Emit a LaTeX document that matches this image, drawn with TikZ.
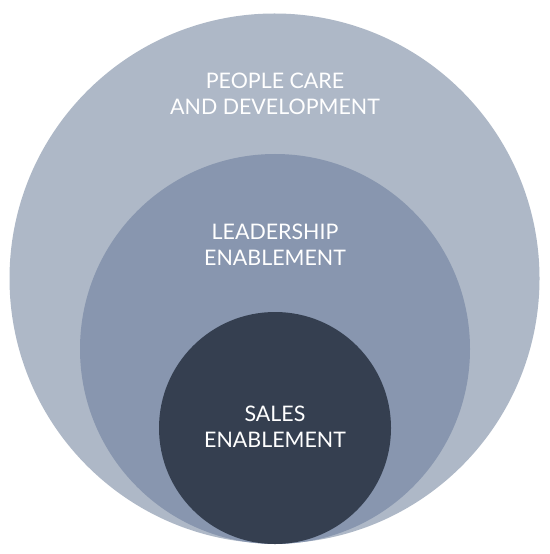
\documentclass[tikz,border=0pt]{standalone}
\usepackage{fontspec}
\setmainfont{Lato}
\definecolor{outerblue}{RGB}{174,184,199}
\definecolor{midblue}{RGB}{136,150,175}
\definecolor{coreblue}{RGB}{53,63,80}
\begin{document}
\begin{tikzpicture}[x=1bp,y=-1bp,
  ring/.style={fill=#1},
  label/.style={text=white,align=center,font=\fontsize{21.5}{26}\selectfont}]
 \useasboundingbox (0,0) rectangle (550,554);
 % three circles, all touching at the bottom
 \fill[ring=outerblue](274.5,278.5) circle (265);
 \fill[ring=midblue](275,349) circle (195);
 \fill[ring=coreblue](275,428) circle (116);
 \node[label] (people) at (275,94) {PEOPLE CARE\\AND DEVELOPMENT};
 \node[label] (leader) at (275,244.5) {LEADERSHIP\\ENABLEMENT};
 \node[label] (sales) at (275,426.5) {SALES\\ENABLEMENT};
\end{tikzpicture}
\end{document}
